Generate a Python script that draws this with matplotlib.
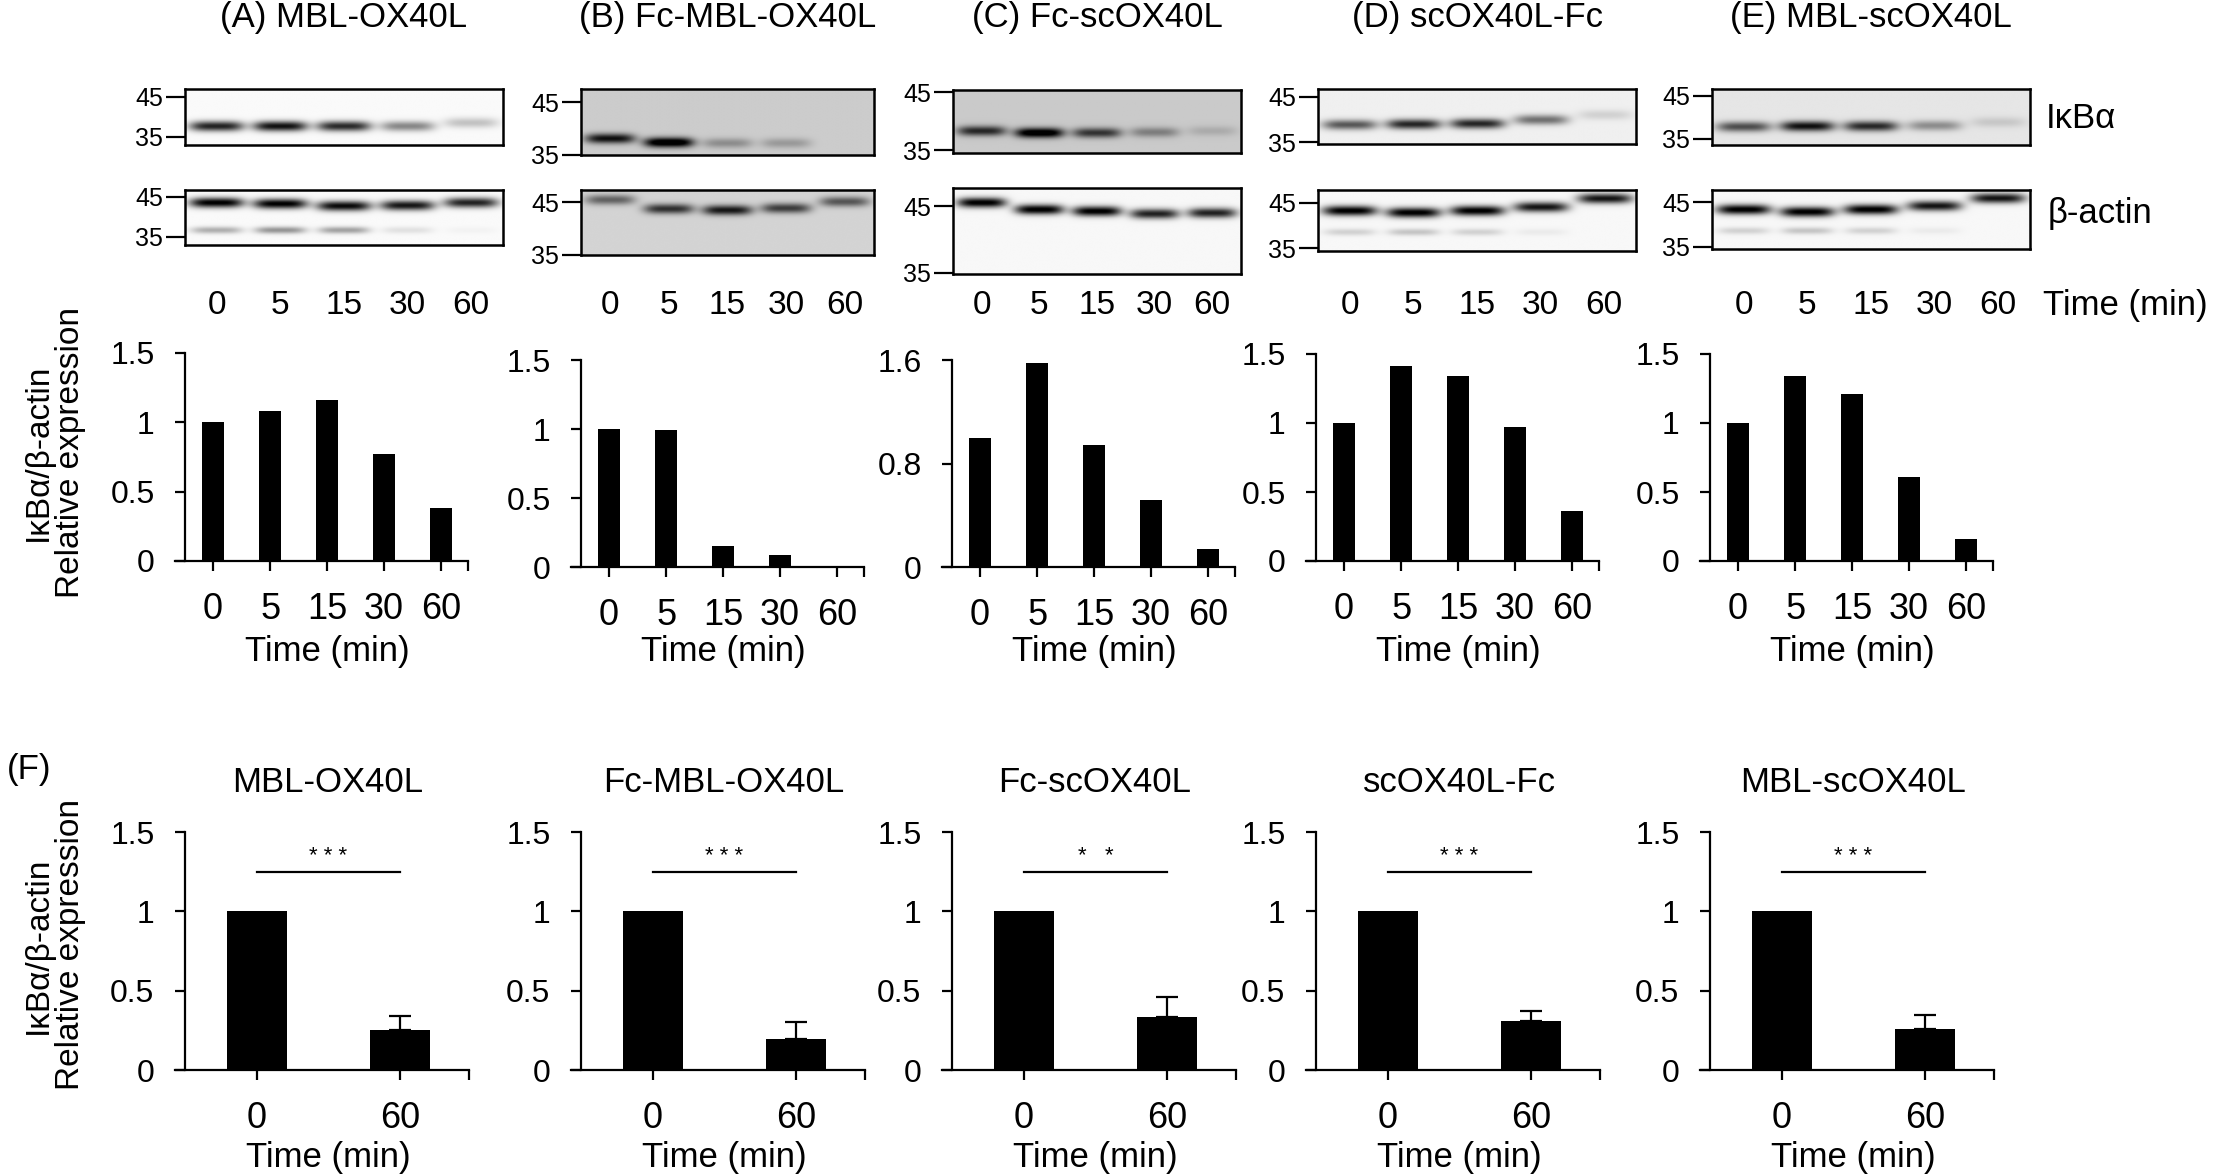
import numpy as np
import matplotlib
matplotlib.use('Agg')
import matplotlib.pyplot as plt

plt.rcParams['font.family'] = ['Liberation Sans', 'DejaVu Sans']

W, H = 2216, 1176

# ---- data ----
time_labels = ['0', '5', '15', '30', '60']
titles = ['(A) MBL-OX40L', '(B) Fc-MBL-OX40L', '(C) Fc-scOX40L', '(D) scOX40L-Fc', '(E) MBL-scOX40L']
names = ['MBL-OX40L', 'Fc-MBL-OX40L', 'Fc-scOX40L', 'scOX40L-Fc', 'MBL-scOX40L']

vals_A = [1.0, 1.08, 1.16, 0.77, 0.38]
vals_B = [1.0, 0.99, 0.15, 0.09, 0.01]
vals_C = [1.0, 1.58, 0.94, 0.52, 0.14]
vals_D = [1.0, 1.41, 1.34, 0.97, 0.36]
vals_E = [1.0, 1.34, 1.21, 0.61, 0.16]
top_vals = [vals_A, vals_B, vals_C, vals_D, vals_E]
top_ymax = [1.5, 1.5, 1.6, 1.5, 1.5]

f_labels = ['0', '60']
f_means = [[1.0, 0.25], [1.0, 0.195], [1.0, 0.335], [1.0, 0.31], [1.0, 0.26]]
f_err = [0.09, 0.11, 0.125, 0.065, 0.085]
f_stars = ['* * *', '* * *', '*   *', '* * *', '* * *']

# blot band intensities (0 = none, 1 = black) and band row (fraction from top)
ikb_bg = [0.02, 0.20, 0.21, 0.06, 0.10]
ikb_int = [[0.85, 0.92, 0.82, 0.45, 0.22],
           [0.75, 0.95, 0.25, 0.20, 0.0],
           [0.65, 0.92, 0.60, 0.30, 0.12],
           [0.60, 0.80, 0.80, 0.50, 0.12],
           [0.60, 0.85, 0.75, 0.35, 0.12]]
ikb_y = [[0.67, 0.67, 0.67, 0.67, 0.61],
         [0.75, 0.81, 0.82, 0.82, 0.82],
         [0.65, 0.68, 0.68, 0.67, 0.65],
         [0.65, 0.64, 0.63, 0.56, 0.47],
         [0.68, 0.67, 0.67, 0.66, 0.60]]

act_bg = [0.02, 0.17, 0.03, 0.03, 0.03]
act_int = [[1.0, 1.0, 0.95, 0.90, 0.85],
           [0.45, 0.65, 0.75, 0.60, 0.50],
           [1.0, 1.0, 1.0, 0.85, 0.85],
           [1.0, 1.0, 1.0, 0.90, 0.90],
           [1.0, 1.0, 1.0, 0.90, 0.90]]
act_y = [[0.23, 0.25, 0.29, 0.28, 0.23],
         [0.15, 0.29, 0.31, 0.28, 0.18],
         [0.17, 0.25, 0.27, 0.30, 0.29],
         [0.34, 0.37, 0.34, 0.28, 0.14],
         [0.33, 0.37, 0.33, 0.27, 0.14]]
act_low_int = [[0.30, 0.40, 0.35, 0.10, 0.03],
               [0, 0, 0, 0, 0],
               [0, 0, 0, 0, 0],
               [0.15, 0.20, 0.15, 0.05, 0],
               [0.15, 0.20, 0.15, 0.05, 0]]
act_low_y = [0.73, 0.7, 0.7, 0.69, 0.69]

# ---- layout (pixels) ----
blot_x = [(185, 503), (581, 874), (953, 1241), (1318, 1636), (1712, 2030)]
ikb_box_y = [(89, 145), (89, 155), (90, 153), (89, 144), (89, 145)]
ikb_marks = [(97, 137), (102, 155), (92, 150), (97, 142), (96, 139)]
act_box_y = [(190, 245), (190, 255), (188, 274), (190, 251), (190, 249)]
act_marks = [(197, 237), (202, 255), (206, 273), (203, 248), (202, 247)]
spine_x = [185, 581, 952, 1316, 1710]
top_axis_y = [(353, 561), (360, 567), (360, 567), (354, 561), (354, 561)]

fig = plt.figure(figsize=(W / 100, H / 100), dpi=100)


def px_axes(x0, y0, x1, y1):
    return fig.add_axes([x0 / W, 1 - y1 / H, (x1 - x0) / W, (y1 - y0) / H])


def px_text(x, y, s, **kw):
    fig.text(x / W, 1 - y / H, s, **kw)


def draw_blot(x0, x1, y0, y1, marks, bg, band_y, band_i, low_y=None, low_i=None):
    ax = px_axes(x0, y0, x1, y1)
    ny, nx = 150, 500
    yy, xx = np.mgrid[0:ny, 0:nx]
    yy = (yy + 0.5) / ny
    xx = (xx + 0.5) / nx
    hgt = y1 - y0
    img = np.full((ny, nx), bg, dtype=float)
    for i in range(5):
        cx = (i + 0.5) / 5
        img += band_i[i] * np.exp(-((xx - cx) / 0.085) ** 4) * np.exp(-((yy - band_y[i]) / (5.0 / hgt)) ** 2)
        if low_i is not None:
            img += low_i[i] * np.exp(-((xx - cx) / 0.08) ** 4) * np.exp(-((yy - low_y) / (3.5 / hgt)) ** 2)
    ax.imshow(np.clip(img, 0, 1), cmap='gray_r', vmin=0, vmax=1, extent=(0, 1, 1, 0),
              aspect='auto', interpolation='bilinear')
    ax.set_xlim(0, 1)
    ax.set_ylim(1, 0)
    ax.set_xticks([])
    ax.set_yticks([(m - y0) / hgt for m in marks])
    ax.set_yticklabels(['45', '35'])
    ax.tick_params(axis='y', length=14, width=1.6, pad=2, labelsize=18)
    for s in ax.spines.values():
        s.set_linewidth(1.8)
    return ax


def style_axes(ax):
    for s in ['top', 'right']:
        ax.spines[s].set_visible(False)
    for s in ['left', 'bottom']:
        ax.spines[s].set_linewidth(1.6)
    ax.tick_params(axis='both', which='both', direction='out', length=7, width=1.6)
    ax.tick_params(axis='y', labelsize=23, pad=15)
    ax.tick_params(axis='x', labelsize=26, pad=15)


# ---- titles and blots ----
for k in range(5):
    x0, x1 = blot_x[k]
    px_text((x0 + x1) / 2, 18, titles[k], ha='center', va='center', fontsize=25)
    draw_blot(x0, x1, ikb_box_y[k][0], ikb_box_y[k][1], ikb_marks[k], ikb_bg[k], ikb_y[k], ikb_int[k])
    draw_blot(x0, x1, act_box_y[k][0], act_box_y[k][1], act_marks[k], act_bg[k], act_y[k], act_int[k],
              act_low_y[k], act_low_int[k])
    for i, lab in enumerate(time_labels):
        px_text(x0 + (i + 0.5) / 5 * (x1 - x0), 305, lab, ha='center', va='center', fontsize=24)

px_text(2046, 118, 'IκBα', ha='left', va='center', fontsize=25)
px_text(2048, 213, 'β-actin', ha='left', va='center', fontsize=25)
px_text(2043, 305, 'Time (min)', ha='left', va='center', fontsize=25)

# ---- time-course bar charts ----
for k in range(5):
    sx = spine_x[k]
    yt, yz = top_axis_y[k]
    ax = px_axes(sx - 10, yt, sx + 283, yz)
    ymax = top_ymax[k]
    ax.bar(range(5), top_vals[k], width=0.38, color='black')
    ax.set_xlim(-0.667, 4.47)
    ax.set_ylim(0, ymax)
    style_axes(ax)
    ax.spines['left'].set_position(('data', -0.49))
    ax.spines['left'].set_bounds(0, ymax)
    ax.set_xticks(range(5))
    ax.set_xticklabels(time_labels)
    ax.set_xticks([4.47], minor=True)
    if ymax == 1.6:
        ax.set_yticks([0, 0.8, 1.6])
        ax.set_yticklabels(['0', '0.8', '1.6'])
    else:
        ax.set_yticks([0, 0.5, 1, 1.5])
        ax.set_yticklabels(['0', '0.5', '1', '1.5'])
    px_text(sx + 142, 651, 'Time (min)', ha='center', va='center', fontsize=25)

px_text(54, 452, 'IκBα/β-actin\nRelative expression', ha='center', va='center',
        rotation=90, fontsize=24, linespacing=1.05)

# ---- (F) summary bar charts ----
px_text(7, 770, '(F)', ha='left', va='center', fontsize=25)
for k in range(5):
    sx = spine_x[k]
    ax = px_axes(sx - 10, 832, sx + 284, 1070)
    ax.bar([0, 1], f_means[k], width=0.42, color='black')
    ax.errorbar([1], [f_means[k][1]], yerr=[[0], [f_err[k]]], fmt='none', ecolor='black',
                elinewidth=1.6, capsize=8, capthick=1.6)
    ax.plot([0, 1], [1.25, 1.25], color='black', lw=1.6)
    ax.text(0.5, 1.31, f_stars[k], ha='center', va='baseline', fontsize=16)
    ax.set_xlim(-0.573, 1.483)
    ax.set_ylim(0, 1.5)
    style_axes(ax)
    ax.spines['left'].set_position(('data', -0.503))
    ax.spines['left'].set_bounds(0, 1.5)
    ax.set_xticks([0, 1])
    ax.set_xticklabels(f_labels)
    ax.set_xticks([1.483], minor=True)
    ax.set_yticks([0, 0.5, 1, 1.5])
    ax.set_yticklabels(['0', '0.5', '1', '1.5'])
    px_text(sx + 143, 783, names[k], ha='center', va='center', fontsize=25)
    px_text(sx + 143, 1158, 'Time (min)', ha='center', va='center', fontsize=25)

px_text(54, 945, 'IκBα/β-actin\nRelative expression', ha='center', va='center',
        rotation=90, fontsize=24, linespacing=1.05)

fig.savefig('out.png', dpi=100)
plt.close(fig)
